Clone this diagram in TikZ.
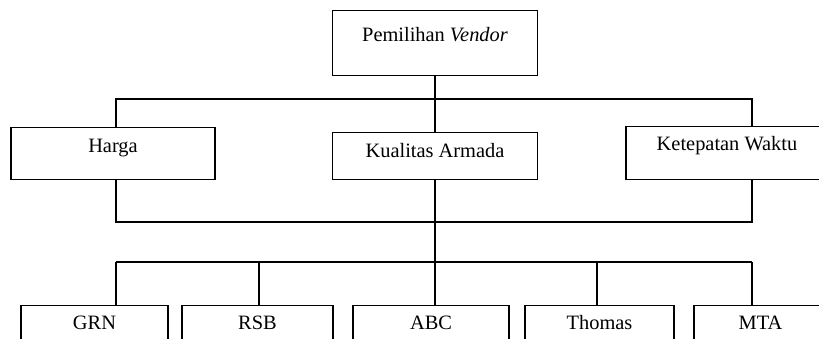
\documentclass[tikz,border=0pt]{standalone}
\usepackage{fontspec}
\setmainfont{Liberation Serif}

\begin{document}
\begin{tikzpicture}[x=0.5pt, y=-0.5pt, line width=0.6pt,
    box/.style={draw, rectangle, inner sep=0pt, anchor=north, font=\fontsize{10.2}{12}\selectfont},
    alt/.style={box, text height=12pt, text depth=20pt}]
        \useasboundingbox (0,0) rectangle (819,338);
        \clip (0,0) rectangle (819,338);

        % Goal
        \node[box, minimum width=102.5pt, text height=15.5pt, text depth=17pt] (vendor) at (435,10) {Pemilihan \textit{Vendor}};

        % Criteria
        \node[box, minimum width=102pt, text height=12.5pt, text depth=13.5pt] (harga) at (113,127) {Harga};
        \node[box, minimum width=102.5pt, text height=12.5pt, text depth=11pt] (kualitas) at (435,132) {Kualitas Armada};
        \node[box, minimum width=101pt, text height=12pt, text depth=14.5pt] (ketepatan) at (727,126) {Ketepatan Waktu};

        % Alternatives
        \node[alt, minimum width=73.5pt] (grn) at (94.5,305) {GRN};
        \node[alt, minimum width=75.5pt] (rsb) at (257.5,305) {RSB};
        \node[alt, minimum width=78pt] (abc) at (431,305) {ABC};
        \node[alt, minimum width=74.5pt] (thomas) at (599.5,305) {Thomas};
        \node[alt, minimum width=66.5pt] (mta) at (760.5,305) {MTA};

        % Bus lines
        \coordinate (hdrop) at (116,99);
        \coordinate (kdrop) at (752,99);
        \coordinate (join) at (435,222);
        \coordinate (bus) at (435,262);

        \draw (vendor) -- (kualitas);
        \draw (harga.north -| hdrop) -- (hdrop) -- (kdrop) -- (ketepatan.north -| kdrop);
        \draw (harga.south -| hdrop) |- (join) -| (ketepatan.south -| kdrop);
        \draw (kualitas.south) -- (kualitas.south |- abc.north);
        \draw (hdrop |- bus) -- (kdrop |- bus);
        \foreach \alt/\xx in {grn/116, rsb/259, thomas/597, mta/752} {
            \coordinate (\alt-in) at (\xx,262);
            \draw (\alt-in) -- (\alt-in |- \alt.north);
        }
      \end{tikzpicture}
\end{document}
